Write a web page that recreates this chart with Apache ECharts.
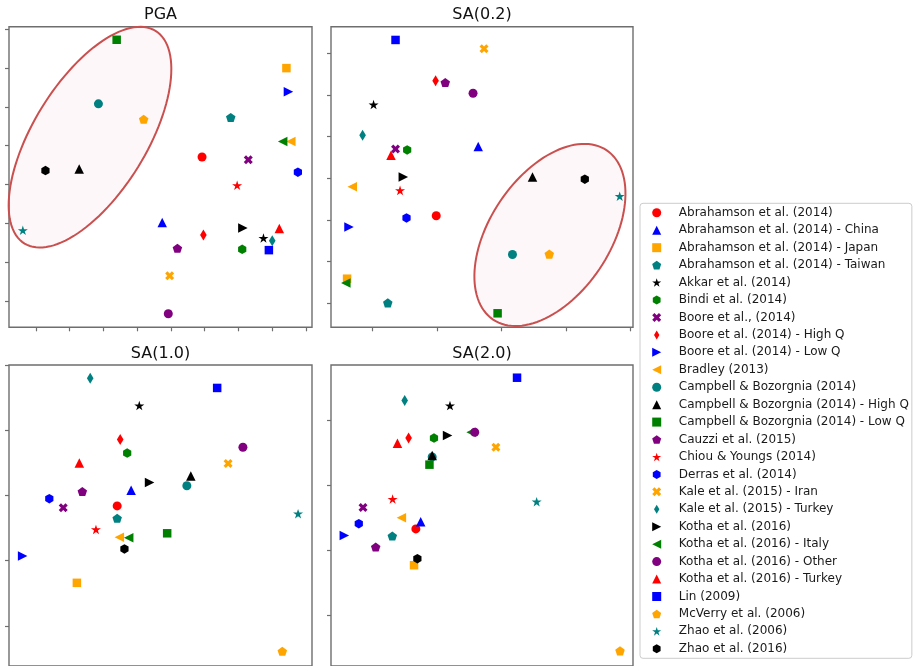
<!DOCTYPE html>
<html>
<head>
<meta charset="utf-8">
<title>GMPE comparison</title>
<script src="https://cdn.jsdelivr.net/npm/echarts@6/dist/echarts.min.js"></script>
<style>
  html, body { margin: 0; padding: 0; background: #ffffff; }
  #chart { width: 913px; height: 666px; }
</style>
</head>
<body>
<div id="chart"></div>
<script>
// Ground-motion models, in legend order
const MODELS = [
  'Abrahamson et al. (2014)',
  'Abrahamson et al. (2014) - China',
  'Abrahamson et al. (2014) - Japan',
  'Abrahamson et al. (2014) - Taiwan',
  'Akkar et al. (2014)',
  'Bindi et al. (2014)',
  'Boore et al., (2014)',
  'Boore et al. (2014) - High Q',
  'Boore et al. (2014) - Low Q',
  'Bradley (2013)',
  'Campbell & Bozorgnia (2014)',
  'Campbell & Bozorgnia (2014) - High Q',
  'Campbell & Bozorgnia (2014) - Low Q',
  'Cauzzi et al. (2015)',
  'Chiou & Youngs (2014)',
  'Derras et al. (2014)',
  'Kale et al. (2015) - Iran',
  'Kale et al. (2015) - Turkey',
  'Kotha et al. (2016)',
  'Kotha et al. (2016) - Italy',
  'Kotha et al. (2016) - Other',
  'Kotha et al. (2016) - Turkey',
  'Lin (2009)',
  'McVerry et al. (2006)',
  'Zhao et al. (2006)',
  'Zhao et al. (2016)'
];

// Panel titles
const PANEL_TITLES = ['PGA', 'SA(0.2)', 'SA(1.0)', 'SA(2.0)'];

// Coordinates of each model, one pair of arrays per intensity measure
const PGA_X = [5.92, 4.74, 8.42, 6.77, 7.74, 7.11, 7.29, 5.96, 8.48, 8.55, 2.85, 2.28, 3.39, 5.19, 6.96, 8.76, 4.96, 8.00, 7.13, 8.31, 4.92, 8.21, 7.90, 4.19, 0.61, 1.28];
const PGA_Y = [4.71, 3.02, 7.00, 5.73, 2.62, 2.33, 4.64, 2.70, 6.39, 5.11, 6.08, 4.40, 7.73, 2.36, 3.98, 4.32, 1.65, 2.55, 2.88, 5.11, 0.67, 2.87, 2.31, 5.68, 2.82, 4.36];

const SA02_X = [1.99, 2.64, 0.61, 1.24, 1.02, 1.54, 1.36, 1.98, 0.64, 0.69, 3.17, 3.48, 2.94, 2.13, 1.43, 1.53, 2.73, 0.85, 1.48, 0.59, 2.56, 1.29, 1.36, 3.74, 4.83, 4.29];
const SA02_Y = [3.10, 4.76, 1.59, 1.01, 5.77, 4.68, 4.70, 6.34, 2.83, 3.80, 2.17, 4.03, 0.76, 6.30, 3.71, 3.05, 7.11, 5.03, 4.03, 1.49, 6.04, 4.55, 7.32, 2.18, 3.57, 3.98];

const SA10_X = [3.57, 4.03, 2.24, 3.57, 4.30, 3.90, 1.79, 3.67, 0.45, 3.64, 5.87, 6.00, 5.22, 2.42, 2.87, 1.33, 7.23, 2.68, 4.64, 3.95, 7.72, 2.32, 6.87, 9.02, 9.54, 3.81];
const SA10_Y = [2.84, 3.08, 1.66, 2.65, 4.38, 3.65, 2.81, 3.86, 2.07, 2.36, 3.15, 3.30, 2.42, 3.06, 2.48, 2.95, 3.49, 4.80, 3.20, 2.35, 3.74, 3.50, 4.65, 0.61, 2.72, 2.18];

const SA20_X = [2.81, 2.97, 2.75, 2.03, 3.94, 3.41, 1.06, 2.57, 0.44, 2.33, 3.35, 3.35, 3.26, 1.48, 2.04, 0.92, 5.46, 2.44, 3.86, 4.64, 4.76, 2.20, 6.16, 9.57, 6.81, 2.86];
const SA20_Y = [2.33, 2.44, 1.77, 2.22, 4.23, 3.73, 2.66, 3.73, 2.23, 2.50, 3.44, 3.46, 3.32, 2.05, 2.79, 2.41, 3.59, 4.31, 3.77, 3.82, 3.82, 3.65, 4.66, 0.45, 2.75, 1.87];

// Tick values on each axis (labels are not shown)
const PGA_XTICKS = [1, 2, 3, 4, 5, 6, 7, 8, 9];
const PGA_YTICKS = [1, 2, 3, 4, 5, 6, 7, 8];
const SA02_XTICKS = [1, 2, 3, 4, 5];
const SA02_YTICKS = [1, 2, 3, 4, 5, 6, 7];
const SA10_XTICKS = [2, 4, 6, 8];
const SA10_YTICKS = [1, 2, 3, 4, 5];
const SA20_XTICKS = [2, 4, 6, 8];
const SA20_YTICKS = [1, 2, 3, 4];

// Highlighted clusters: centre (x, y) and two conjugate half-axis vectors
const PGA_ELLIPSE = [2.60, 5.22, 1.94, 2.74, 1.43, -0.76];
const SA02_ELLIPSE = [3.75, 2.64, 0.88, 2.03, 0.77, -0.81];

// ---- styling ----
const COLOR_CYCLE = ['#ff0000', '#0000ff', '#ffa500', '#008080', '#000000', '#008000', '#800080'];
const SYMBOLS = {
  circle:   { symbol: 'circle', size: 9 },
  triUp:    { symbol: 'triangle', size: 9.5 },
  square:   { symbol: 'rect', size: 8.5 },
  pentagon: { symbol: 'path://M50,0 L97.55,34.55 L79.39,90.45 L20.61,90.45 L2.45,34.55 Z', size: 9.5 },
  star:     { symbol: 'path://M50,0 L61.23,34.55 L97.55,34.55 L68.16,55.9 L79.39,90.45 L50,69.1 L20.61,90.45 L31.84,55.9 L2.45,34.55 L38.77,34.55 Z', size: 10 },
  hexagon:  { symbol: 'path://M50,0 L93.3,25 L93.3,75 L50,100 L6.7,75 L6.7,25 Z', size: 9.5 },
  cross:    { symbol: 'path://M25,0 L50,25 L75,0 L100,25 L75,50 L100,75 L75,100 L50,75 L25,100 L0,75 L25,50 L0,25 Z', size: 9 },
  diamond:  { symbol: 'path://M30,0 L60,50 L30,100 L0,50 Z', size: 11 },
  triRight: { symbol: 'path://M0,0 L100,50 L0,100 Z', size: 9.5 },
  triLeft:  { symbol: 'path://M100,0 L0,50 L100,100 Z', size: 9.5 }
};
const MARKER_CYCLE = ['circle', 'triUp', 'square', 'pentagon', 'star', 'hexagon', 'cross', 'diamond', 'triRight', 'triLeft'];

const FRAME = '#6e6e6e';
const FONT = 'DejaVu Sans, Liberation Sans, sans-serif';

// Panel layout (pixels) and axis windows
const PANELS = [
  { x: PGA_X,  y: PGA_Y,  xt: PGA_XTICKS,  yt: PGA_YTICKS,  ell: PGA_ELLIPSE,
    grid: { left: 9, top: 26.7, width: 303, height: 300.6 }, xr: [0.2, 9.178], yr: [0.322, 8.067] },
  { x: SA02_X, y: SA02_Y, xt: SA02_XTICKS, yt: SA02_YTICKS, ell: SA02_ELLIPSE,
    grid: { left: 331, top: 26.7, width: 302, height: 300.6 }, xr: [0.361, 5.036], yr: [0.424, 7.638] },
  { x: SA10_X, y: SA10_Y, xt: SA10_XTICKS, yt: SA10_YTICKS, ell: null,
    grid: { left: 9, top: 365, width: 303, height: 302 }, xr: [0, 10], yr: [0.384, 5.002] },
  { x: SA20_X, y: SA20_Y, xt: SA20_XTICKS, yt: SA20_YTICKS, ell: null,
    grid: { left: 331, top: 365, width: 302, height: 302 }, xr: [0, 10], yr: [0.217, 4.856] }
];

const grids = [], xAxes = [], yAxes = [], series = [], titles = [];

PANELS.forEach((p, i) => {
  grids.push(Object.assign({
    show: true, borderColor: FRAME, borderWidth: 1.4, backgroundColor: '#ffffff', containLabel: false
  }, p.grid));

  const tickStyle = { show: true, inside: false, length: 4, lineStyle: { color: FRAME, width: 1.2 } };
  xAxes.push({
    type: 'value', gridIndex: i, min: p.xr[0], max: p.xr[1],
    axisLine: { show: false }, splitLine: { show: false }, axisLabel: { show: false },
    axisTick: Object.assign({ customValues: p.xt }, tickStyle)
  });
  yAxes.push({
    type: 'value', gridIndex: i, min: p.yr[0], max: p.yr[1],
    axisLine: { show: false }, splitLine: { show: false }, axisLabel: { show: false },
    axisTick: Object.assign({ customValues: p.yt }, tickStyle)
  });

  titles.push({
    text: PANEL_TITLES[i],
    left: p.grid.left + p.grid.width / 2,
    top: p.grid.top - 19.5,
    textAlign: 'center',
    padding: 0,
    textStyle: { fontFamily: FONT, fontSize: 16, fontWeight: 'normal', color: '#111111' }
  });

  if (p.ell) {
    series.push({
      type: 'custom', xAxisIndex: i, yAxisIndex: i, silent: true, z: 1, clip: false,
      data: [p.ell],
      renderItem: function (params, api) {
        const cx = api.value(0), cy = api.value(1);
        const ux = api.value(2), uy = api.value(3);
        const vx = api.value(4), vy = api.value(5);
        const pts = [];
        for (let k = 0; k < 120; k++) {
          const t = (k / 120) * Math.PI * 2;
          pts.push(api.coord([cx + ux * Math.cos(t) + vx * Math.sin(t),
                              cy + uy * Math.cos(t) + vy * Math.sin(t)]));
        }
        return {
          type: 'polygon',
          shape: { points: pts },
          style: { fill: 'rgba(215, 70, 110, 0.045)', stroke: '#c9504f', lineWidth: 2 }
        };
      }
    });
  }

  MODELS.forEach((name, m) => {
    const mk = SYMBOLS[MARKER_CYCLE[m % MARKER_CYCLE.length]];
    series.push({
      type: 'scatter', name: name, xAxisIndex: i, yAxisIndex: i, z: 2,
      symbol: mk.symbol, symbolSize: mk.size, symbolKeepAspect: true,
      itemStyle: { color: COLOR_CYCLE[m % COLOR_CYCLE.length], opacity: 1 },
      emphasis: { disabled: true },
      data: [[p.x[m], p.y[m]]]
    });
  });
});

const chart = echarts.init(document.getElementById('chart'), null, { renderer: 'canvas' });
chart.setOption({
  animation: false,
  backgroundColor: '#ffffff',
  title: titles,
  grid: grids,
  xAxis: xAxes,
  yAxis: yAxes,
  legend: {
    orient: 'vertical',
    left: 640, top: 203.3,
    data: MODELS,
    itemWidth: 9, itemHeight: 9, itemGap: 3.44,
    padding: [2.5, 3, 2.5, 12.2],
    borderColor: '#cccccc', borderWidth: 1, borderRadius: 3,
    backgroundColor: '#ffffff',
    selectedMode: false,
    textStyle: { fontFamily: FONT, fontSize: 12, color: '#1a1a1a', lineHeight: 14, padding: [0, 0, 0, 12.6] }
  },
  series: series
});
</script>
</body>
</html>
